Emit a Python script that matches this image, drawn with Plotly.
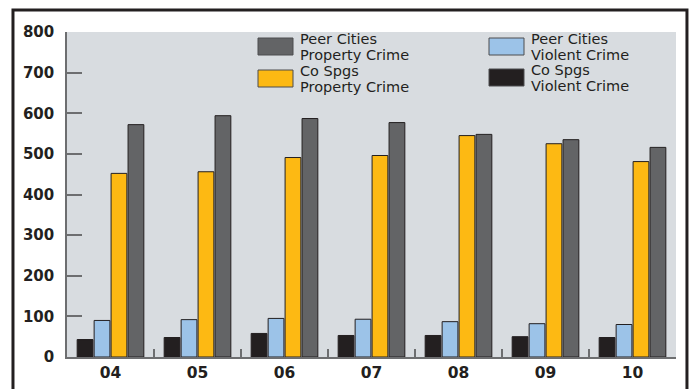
import plotly.graph_objects as go

years = ["04", "05", "06", "07", "08", "09", "10"]
co_violent = [43, 48, 58, 53, 53, 50, 48]
peer_violent = [90, 92, 95, 93, 87, 82, 80]
co_property = [452, 456, 491, 496, 545, 525, 481]
peer_property = [572, 594, 587, 577, 548, 535, 516]

series_names = ["Co Spgs<br>Violent Crime", "Peer Cities<br>Violent Crime",
                "Co Spgs<br>Property Crime", "Peer Cities<br>Property Crime"]
series_values = [co_violent, peer_violent, co_property, peer_property]
series_colors = ["#231f20", "#9cc3e8", "#fdb913", "#636466"]

y_ticks = [0, 100, 200, 300, 400, 500, 600, 700, 800]

fig = go.Figure()
for name, vals, col in zip(series_names, series_values, series_colors):
    fig.add_trace(go.Bar(x=years, y=vals, name=name, marker_color=col,
                         marker_line_color="#231f20", marker_line_width=1,
                         showlegend=False))

font_main = "DejaVu Sans"
fig.update_layout(
    width=694, height=389,
    margin=dict(l=67, r=18, t=32, b=32, autoexpand=False),
    paper_bgcolor="white", plot_bgcolor="#d8dce0",
    barmode="group", bargap=0.22, bargroupgap=0.07,
    font=dict(family=font_main, color="#231f20"),
)
fig.update_yaxes(range=[0, 800], tickvals=y_ticks, showgrid=False, zeroline=False,
                 automargin=False,
                 showline=True, linecolor="#6d6e70", linewidth=1.5,
                 ticks="inside", ticklen=15, tickcolor="#6d6e70", tickwidth=1.5,
                 tickfont=dict(size=15, color="#231f20", weight="bold"),
                 ticklabelstandoff=8)
fig.update_xaxes(showgrid=False, showline=True, linecolor="#6d6e70", linewidth=1.5,
                 automargin=False,
                 ticks="inside", tickson="boundaries", ticklen=8, tickcolor="#6d6e70",
                 tickwidth=1.5, tickfont=dict(size=15.5, color="#231f20", weight="bold"),
                 ticklabelstandoff=1)

# outer frame
fig.add_shape(type="rect", xref="paper", yref="paper",
              x0=-0.0887, x1=1.018, y0=-0.3, y1=1.0677,
              line=dict(color="#231f20", width=3), fillcolor="rgba(0,0,0,0)",
              layer="below")

# custom legend (large swatches)
W, H = 609.0, 325.0
def px(x):
    return (x - 67) / W
def py(y):
    return (357 - y) / H

legend_order = [3, 2, 1, 0]
legend_pos = [(258, 38), (258, 70), (489, 38), (489, 69)]
for idx, (lx, ly) in zip(legend_order, legend_pos):
    fig.add_shape(type="rect", xref="paper", yref="paper",
                  x0=px(lx), x1=px(lx + 35), y0=py(ly + 17), y1=py(ly),
                  fillcolor=series_colors[idx], line=dict(color="#4d4d4f", width=1))
    for k, line in enumerate(series_names[idx].split("<br>")):
        fig.add_annotation(xref="paper", yref="paper", x=px(lx + 40), y=py(ly + 1 + 16 * k),
                           xanchor="left", yanchor="middle", showarrow=False,
                           text=line, font=dict(size=14.5, color="#231f20", family=font_main))

fig.write_html("out.html", config={"displayModeBar": False},
               post_script="document.body.style.margin='0px';")
